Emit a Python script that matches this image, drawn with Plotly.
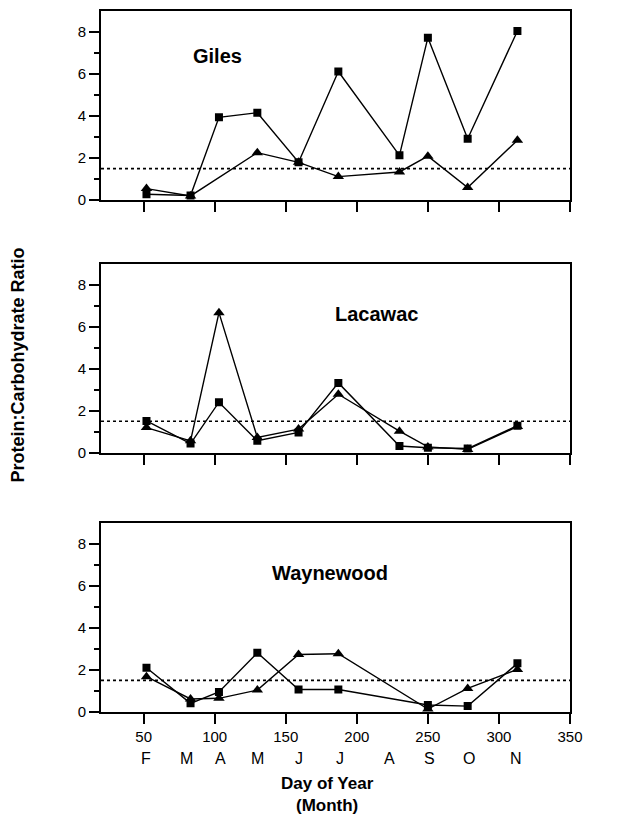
import plotly.graph_objects as go
from plotly.subplots import make_subplots

days = [52, 83, 103, 130, 159, 187, 230, 250, 278, 313]

giles_sq = [0.28, 0.22, 3.94, 4.16, 1.80, 6.12, 2.13, 7.73, 2.92, 8.05]
giles_tri = [0.55, 0.20, None, 2.26, 1.80, 1.12, 1.34, 2.09, 0.60, 2.85]

lacawac_sq = [1.52, 0.44, 2.41, 0.57, 0.97, 3.33, 0.32, 0.24, 0.20, 1.29]
lacawac_tri = [1.20, 0.57, 6.68, 0.73, 1.13, 2.79, 1.03, 0.28, 0.16, 1.25]

waynewood_sq = [2.10, 0.41, 0.95, 2.81, 1.07, 1.07, None, 0.33, 0.28, 2.31]
waynewood_tri = [1.68, 0.62, 0.65, 1.04, 2.73, 2.77, None, 0.14, 1.12, 2.02]

lakes = ["Giles", "Lacawac", "Waynewood"]
label_pos = [(102, 6.85), (214, 6.6), (181, 6.6)]
threshold = 1.5

month_labels = ["F", "M", "A", "M", "J", "J", "A", "S", "O", "N"]
month_pos = [52, 80, 104, 130, 159, 188, 223, 251, 279, 312]

x_ticks = [50, 100, 150, 200, 250, 300, 350]

FONT = "Liberation Sans, Arial, Helvetica, sans-serif"

fig = make_subplots(rows=3, cols=1, shared_xaxes=False, vertical_spacing=0.05)

series = [(giles_sq, giles_tri), (lacawac_sq, lacawac_tri), (waynewood_sq, waynewood_tri)]
for i, (sq, tri) in enumerate(series, start=1):
    fig.add_trace(go.Scatter(x=days, y=tri, mode="lines+markers", connectgaps=True,
                             line=dict(color="black", width=1.4),
                             marker=dict(symbol="triangle-up", size=10, color="black"),
                             showlegend=False), row=i, col=1)
    fig.add_trace(go.Scatter(x=days, y=sq, mode="lines+markers", connectgaps=True,
                             line=dict(color="black", width=1.4),
                             marker=dict(symbol="square", size=8, color="black"),
                             showlegend=False), row=i, col=1)
    fig.add_hline(y=threshold, line=dict(color="black", width=1.6, dash="3px,3px"), row=i, col=1)
    fig.add_annotation(x=label_pos[i-1][0], y=label_pos[i-1][1], xref=f"x{i if i>1 else ''}",
                       yref=f"y{i if i>1 else ''}", text=f"<b>{lakes[i-1]}</b>", showarrow=False,
                       font=dict(family=FONT, size=20, color="black"))

domains = [[0.7302, 1.0], [0.3698, 0.6391], [0.0, 0.2703]]
for i in range(1, 4):
    fig.update_yaxes(row=i, col=1, range=[0, 9], domain=domains[i-1],
                     tickvals=[0, 2, 4, 6, 8], ticks="outside", ticklen=10, tickwidth=1.5,
                     tickcolor="black", showline=True, linecolor="black", linewidth=1.6,
                     mirror=True, showgrid=False, zeroline=False,
                     tickfont=dict(family=FONT, size=15, color="black"),
                     minor=dict(tickvals=[1, 3, 5, 7], ticks="outside", ticklen=5,
                                tickwidth=1.5, tickcolor="black", showgrid=False))
    fig.update_xaxes(row=i, col=1, range=[20, 350], tickvals=x_ticks, ticks="outside",
                     ticklen=10, tickwidth=1.5, tickcolor="black", showline=True,
                     linecolor="black", linewidth=1.6, mirror=True, showgrid=False,
                     zeroline=False, showticklabels=(i == 3),
                     tickfont=dict(family=FONT, size=15, color="black"))

for lab, pos in zip(month_labels, month_pos):
    fig.add_annotation(x=pos, y=-0.0669, xref="x3", yref="paper", text=lab, showarrow=False,
                       font=dict(family=FONT, size=16, color="black"), yanchor="middle")

fig.add_annotation(x=0.484, y=-0.118, xref="paper", yref="paper",
                   text="<b>Day of Year<br>(Month)</b>", showarrow=False, yanchor="middle",
                   align="center", font=dict(family=FONT, size=17, color="black"))
fig.add_annotation(x=-0.177, y=0.4957, xref="paper", yref="paper",
                   text="<b>Protein:Carbohydrate Ratio</b>", showarrow=False, textangle=-90,
                   xanchor="center", yanchor="middle",
                   font=dict(family=FONT, size=18, color="black"))

# page body has an 8px default margin; size and margins compensate for it
fig.update_layout(width=610, height=806, margin=dict(l=93, r=48, t=1, b=102),
                  plot_bgcolor="white", paper_bgcolor="white",
                  font=dict(family=FONT, color="black"))

fig.write_html("out.html")
